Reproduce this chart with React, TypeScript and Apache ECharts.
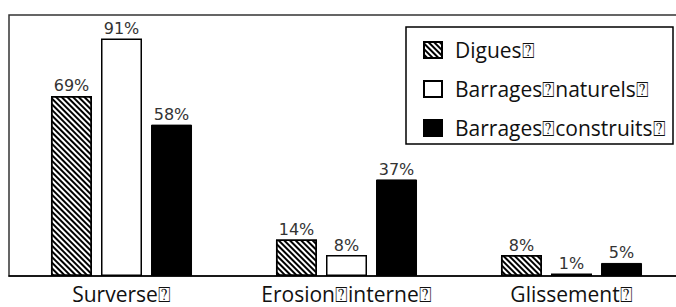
import React, { useEffect, useRef } from "react";
import * as echarts from "echarts";

const categories = ["Surverse⍰", "Erosion⍰interne⍰", "Glissement⍰"];
const seriesNames = ["Digues⍰", "Barrages⍰naturels⍰", "Barrages⍰construits⍰"];
const digues = [69, 14, 8];
const naturels = [91, 8, 1];
const construits = [58, 37, 5];

export default function App() {
  const ref = useRef<HTMLDivElement>(null);
  useEffect(() => {
    document.body.style.margin = "0";
    document.body.style.overflow = "hidden";
    const chart = echarts.init(ref.current!, null, { renderer: "svg" });
    const label = {
      show: true,
      position: "top",
      distance: 2,
      formatter: "{c}%",
      fontFamily: "DejaVu Sans",
      fontSize: 16,
      color: "#333",
    };
    const option: any = {
      animation: false,
      grid: {
        left: 9,
        right: 0,
        top: 15,
        bottom: 31,
        show: true,
        borderColor: "#333",
        borderWidth: 1.5,
        backgroundColor: "#fff",
      },
      xAxis: {
        type: "category",
        data: categories,
        axisLine: { show: true, lineStyle: { color: "#000", width: 1.5 } },
        axisTick: { show: false },
        axisLabel: {
          interval: 0,
          fontFamily: "Open Sans",
          fontSize: 21,
          lineHeight: 22,
          color: "#111",
          margin: 7,
        },
      },
      yAxis: {
        type: "value",
        min: 0,
        max: 100,
        axisLabel: { show: false },
        splitLine: { show: false },
        axisLine: { show: false },
        axisTick: { show: false },
      },
      graphic: [
        {
          type: "rect",
          z: 1,
          shape: { x: 406, y: 27, width: 267, height: 117 },
          style: { fill: "#fff", stroke: "#000", lineWidth: 1.5 },
        },
      ],
      legend: {
        orient: "vertical",
        left: 418,
        top: 33,
        z: 10,
        icon: "rect",
        itemWidth: 18,
        itemHeight: 16,
        itemGap: 15,
        data: seriesNames,
        textStyle: {
          fontFamily: "Open Sans",
          fontSize: 21,
          lineHeight: 24,
          color: "#111",
          padding: [0, 0, 0, 8],
        },
      },
      series: [
        {
          name: seriesNames[0],
          type: "bar",
          data: digues,
          barWidth: 41,
          barGap: "22%",
          label,
          itemStyle: {
            color: "#fff",
            borderColor: "#000",
            borderWidth: 1.5,
            decal: {
              symbol: "rect",
              symbolSize: 1,
              dashArrayX: [1, 0],
              dashArrayY: [2, 1.6],
              rotation: Math.PI / 4,
              color: "#000",
            },
          },
        },
        {
          name: seriesNames[1],
          type: "bar",
          data: naturels,
          barWidth: 41,
          barGap: "22%",
          label,
          itemStyle: { color: "#fff", borderColor: "#000", borderWidth: 1.5 },
        },
        {
          name: seriesNames[2],
          type: "bar",
          data: construits,
          barWidth: 41,
          barGap: "22%",
          label,
          itemStyle: { color: "#000", borderColor: "#000", borderWidth: 1 },
        },
      ],
    };
    chart.setOption(option);
    return () => chart.dispose();
  }, []);
  return <div ref={ref} style={{ width: 684, height: 307 }} />;
}
